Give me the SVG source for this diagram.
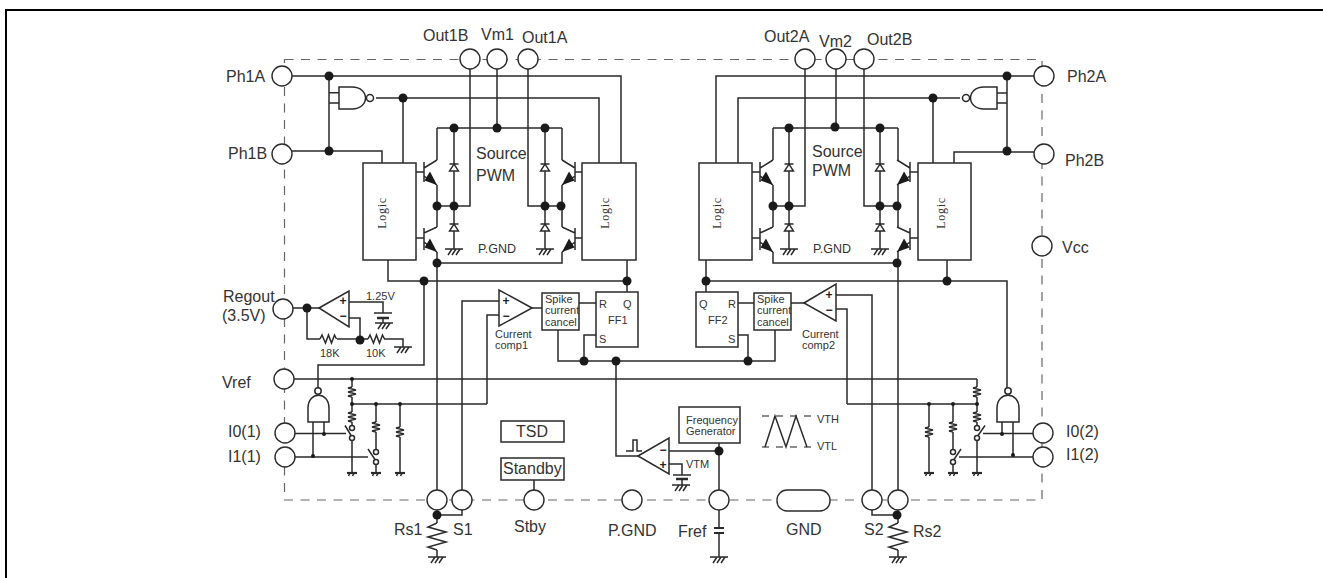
<svg xmlns="http://www.w3.org/2000/svg" xmlns:xlink="http://www.w3.org/1999/xlink" width="1323" height="578" viewBox="0 0 1323 578">
<style>
.w{fill:none;stroke:#2a2a2a;stroke-width:1.5;stroke-linejoin:miter}
.b{fill:#fff;stroke:#2a2a2a;stroke-width:1.5}
.d{fill:#1a1a1a;stroke:none}
.p{fill:#fff;stroke:#2a2a2a;stroke-width:1.4}
text{font-family:"Liberation Sans",Arial,sans-serif;fill:#333}
.t16{font-size:16px}
.t11{font-size:11px}
.t12{font-size:12.5px}
.ser{font-family:"Liberation Serif","Times New Roman",serif;font-size:12px;letter-spacing:.7px;text-anchor:middle}
.sign{font-size:12px;font-weight:bold;text-anchor:middle;fill:#222}
.dash{fill:none;stroke:#666;stroke-width:1.2;stroke-dasharray:9 7.5}
</style>
<defs>
<circle id="dot" class="d" r="4.5"/>
<circle id="sd" class="d" r="2"/>
<g id="gnd" class="w"><path d="M-9 0H9M-2 0l-4 6M2 0l-4 6M6 0l-4 6"/></g>
<g id="sg"><path class="w" d="M-5 0H5" style="stroke-width:2.200"/><path class="w" d="M-2 0l-1.500 3M2 0l-1.500 3"/></g>
<g id="q1"><path class="w" d="M0 0H8M8 -10V10M8 -4L21 -12M8 4L21 13"/><path class="d" d="M21 13L8.500 8.500L14 -0.500Z"/></g>
<g id="q2"><path class="w" d="M0 0H8M8 -10V12M8 -5L21 -11M8 4L21 14"/><path class="d" d="M21 14L8.500 9.500L14 0.500Z"/></g>
<g id="dio"><path class="p" d="M-4.500 7H4.500L0 0Z"/><path class="w" d="M-4.500 0H4.500"/></g>
<path id="rv" class="w" d="M0 0l-4 1 8 2 -8 2 8 2 -8 2 4 1" style="stroke-width:1.400"/>
<path id="rh" class="w" d="M0 0l2 -4 3.500 8 3 -8 3 8 3 -8 2 4"/>
<path id="rb" class="w" d="M0 0l-9 4 18 5 -18 5 18 5 -18 5 9 3"/>
</defs>
<rect width="1323" height="578" fill="#fff"/>
<path id="frame" d="M6 578V10H1323" fill="none" stroke="#000" stroke-width="2"/>
<rect id="package" class="dash" x="284.500" y="59.500" width="757.500" height="440.500"/>
<g id="connectors">
<path class="w" d="M292 76H621V163M329 76V151M329 92.700H339M329 103H339M292 151H382V163M376 98H599V163M403 98V163"/>
<path class="w" d="M497 69V128M437 128H562M470 69V206H437M528 69V206H562M437 128V160M562 128V160M437 185V227M562 185V227M437 252V490M562 252V263H437"/>
<path class="w" d="M454 128V206M545 128V206M454 206V249M545 206V249"/>
<path class="w" d="M388 260V281H627M627 260V292M424 281V365H318V388"/>
<path class="w" d="M1034 76H716V163M1007 76V151M997 93H1007M997 103H1007M1034 152H954V163M960 98H738V163M933 98V163"/>
<path class="w" d="M836 69V128M773 128H898M805 69V206H773M864 69V206H898M773 128V160M898 128V160M773 185V227M898 185V227M773 252V263H898M898 252V490"/>
<path class="w" d="M789 128V206M880 128V206M789 206V249M880 206V249"/>
<path class="w" d="M706 260V292M706 281H1007V388M947 260V281"/>
<path class="w" d="M293 308H319M349 302H383V313M383 318V323M349 318H360V340M307 308V339H320M337 339H368M384 339H403V347"/>
<path class="w" d="M462 490V301H499M487 404V315H499M532 308H542M579 303H596M738 303H754M791 303H804M836 295H872V490M836 309H847V404"/>
<path class="w" d="M558 330V361H775V330M584 361V335H596M748 361V335H738M616 361V456H638"/>
<path class="w" d="M669 451H719M719 443V490M669 464H682V475M682 479V485M719 510V528M719 533V557"/>
<path class="w" style="stroke-width:1.700" d="M294 379H977"/>
<path class="w" d="M352 379V387M352 397V412M352 404H487M352 422V425.500M352 440.500V473M376 404V422M376 432V449.500M376 464.500V473M400 404V427M400 437V473"/>
<path class="w" d="M977 379V387M977 397V412M847 404H977M977 422V425.500M977 440.500V473M953 404V422M953 432V449.500M953 464.500V473M929 404V427M929 437V473"/>
<path class="w" d="M313 422V456M324 422V434M295 433.500H346M295 457H368"/>
<path class="w" d="M1002 422V434M1013 422V456M1033 433.500H983M1033 457H959"/>
<path class="w" d="M345 425.500L352 437M368 449L376 461M985 425.500L977 437M961 449L953 461"/>
<path class="w" d="M437 510V523M462 510V515H437M437 550V557M898 510V523M872 510V515H898M898 550V557M534 480V490"/>
<use href="#rb" x="437" y="523"/><use href="#rb" x="898" y="523"/>
<use href="#rh" x="320" y="339"/><use href="#rh" x="368" y="339"/>
<use href="#rv" x="352" y="387"/><use href="#rv" x="352" y="412"/><use href="#rv" x="376" y="422"/><use href="#rv" x="400" y="427"/>
<use href="#rv" x="977" y="387"/><use href="#rv" x="977" y="412"/><use href="#rv" x="953" y="422"/><use href="#rv" x="929" y="427"/>
<use href="#dot" x="329" y="76"/><use href="#dot" x="329" y="151"/><use href="#dot" x="403" y="98"/><use href="#dot" x="454" y="128"/><use href="#dot" x="497" y="128"/><use href="#dot" x="545" y="128"/>
<use href="#dot" x="437" y="206"/><use href="#dot" x="454" y="206"/><use href="#dot" x="545" y="206"/><use href="#dot" x="561" y="206"/><use href="#dot" x="437" y="263"/><use href="#dot" x="424" y="281"/><use href="#dot" x="627" y="281"/>
<use href="#dot" x="1007" y="76"/><use href="#dot" x="1007" y="151"/><use href="#dot" x="933" y="98"/><use href="#dot" x="789" y="128"/><use href="#dot" x="835" y="127"/><use href="#dot" x="880" y="128"/>
<use href="#dot" x="773" y="206"/><use href="#dot" x="789" y="206"/><use href="#dot" x="880" y="206"/><use href="#dot" x="897" y="206"/><use href="#dot" x="897" y="263"/><use href="#dot" x="706" y="281"/><use href="#dot" x="947" y="281"/>
<use href="#dot" x="307" y="308"/><use href="#dot" x="360" y="340"/><use href="#dot" x="584" y="361"/><use href="#dot" x="616" y="361"/><use href="#dot" x="748" y="361"/><use href="#dot" x="719" y="451"/><use href="#dot" x="437" y="515"/><use href="#dot" x="897" y="515"/>
<use href="#sd" x="352" y="379"/><use href="#sd" x="352" y="404"/><use href="#sd" x="376" y="404"/><use href="#sd" x="400" y="404"/><use href="#sd" x="324" y="434"/><use href="#sd" x="313" y="456"/>
<use href="#sd" x="977" y="404"/><use href="#sd" x="953" y="404"/><use href="#sd" x="929" y="404"/><use href="#sd" x="1002" y="434"/><use href="#sd" x="1013" y="455"/>
</g>
<g id="bridge1">
<use href="#q1" x="416" y="172"/><use href="#q2" x="416" y="238"/>
<use href="#q1" transform="translate(583 172) scale(-1 1)"/><use href="#q2" transform="translate(583 238) scale(-1 1)"/>
<use href="#dio" x="454" y="164"/><use href="#dio" x="545" y="164"/><use href="#dio" x="454" y="224"/><use href="#dio" x="545" y="224"/>
<use href="#gnd" x="454" y="249"/><use href="#gnd" x="545" y="249"/>
<text class="t16" x="476" y="159">Source</text><text class="t16" x="476" y="181">PWM</text><text class="t12" x="478" y="253">P.GND</text>
</g>
<g id="bridge2">
<use href="#q1" x="752" y="172"/><use href="#q2" x="752" y="238"/>
<use href="#q1" transform="translate(918 172) scale(-1 1)"/><use href="#q2" transform="translate(918 238) scale(-1 1)"/>
<use href="#dio" x="789" y="164"/><use href="#dio" x="880" y="164"/><use href="#dio" x="789" y="224"/><use href="#dio" x="880" y="224"/>
<use href="#gnd" x="789" y="249"/><use href="#gnd" x="880" y="249"/>
<text class="t16" x="812" y="157">Source</text><text class="t16" x="812" y="176">PWM</text><text class="t12" x="813" y="253">P.GND</text>
</g>
<g id="logic1a"><rect class="b" x="363" y="163" width="53" height="97"/><text class="ser" transform="translate(386 213) rotate(-90)">Logic</text></g>
<g id="logic1b"><rect class="b" x="582" y="163" width="54" height="97"/><text class="ser" transform="translate(609 213) rotate(-90)">Logic</text></g>
<g id="logic2a"><rect class="b" x="699" y="163" width="53" height="97"/><text class="ser" transform="translate(721 213) rotate(-90)">Logic</text></g>
<g id="logic2b"><rect class="b" x="918" y="163" width="53" height="97"/><text class="ser" transform="translate(945 213) rotate(-90)">Logic</text></g>
<g id="nand1"><path class="b" d="M339 87H352C370 87 370 109 352 109H339Z"/><circle class="b" cx="370" cy="98" r="3.500"/></g>
<g id="nand2"><path class="b" d="M997 87H984C966 87 966 109 984 109H997Z"/><circle class="b" cx="966" cy="98" r="3.500"/></g>
<g id="nand3"><path class="b" d="M308 422V408C308 391 329 391 329 408V422Z"/><circle class="b" cx="318" cy="391" r="3.200"/></g>
<g id="nand4"><path class="b" d="M997 422V408C997 391 1019 391 1019 408V422Z"/><circle class="b" cx="1008" cy="391" r="3.200"/></g>
<g id="regamp"><path class="b" d="M319 308L349 291V327Z"/><text class="sign" x="343" y="305">+</text><text class="sign" x="343" y="320">−</text>
<path class="w" d="M374 313H392"/><path class="w" style="stroke-width:2.500" d="M377 318H389"/><use href="#gnd" x="384" y="323"/><use href="#gnd" x="403" y="347"/>
<text class="t11" x="366" y="300">1.25V</text><text class="t11" x="320" y="357">18K</text><text class="t11" x="366" y="357">10K</text></g>
<g id="comp1"><path class="b" d="M532 308L499 290V326Z"/><text class="sign" x="506" y="305">+</text><text class="sign" x="506" y="320">−</text>
<text class="t11" x="495" y="338">Current</text><text class="t11" x="495" y="349">comp1</text></g>
<g id="comp2"><path class="b" d="M804 303L836 284V321Z"/><text class="sign" x="829" y="299">+</text><text class="sign" x="829" y="314">−</text>
<text class="t11" x="802" y="338">Current</text><text class="t11" x="802" y="349">comp2</text></g>
<g id="spike1"><rect class="b" x="542" y="293" width="37" height="37"/><text class="t11" x="545" y="303">Spike</text><text class="t11" x="545" y="314">current</text><text class="t11" x="545" y="326">cancel</text></g>
<g id="spike2"><rect class="b" x="754" y="293" width="37" height="37"/><text class="t11" x="757" y="303">Spike</text><text class="t11" x="757" y="314">current</text><text class="t11" x="757" y="326">cancel</text></g>
<g id="ff1"><rect class="b" x="596" y="292" width="42" height="55"/><text class="t11" x="599" y="308">R</text><text class="t11" x="623" y="308">Q</text><text class="t11" x="608" y="324">FF1</text><text class="t11" x="599" y="343">S</text></g>
<g id="ff2"><rect class="b" x="696" y="292" width="42" height="55"/><text class="t11" x="699" y="308">Q</text><text class="t11" x="728" y="308">R</text><text class="t11" x="708" y="324">FF2</text><text class="t11" x="728" y="343">S</text></g>
<g id="tsd"><rect class="b" x="501" y="421" width="63" height="21"/><text class="t16" x="516" y="437">TSD</text></g>
<g id="standby"><rect class="b" x="501" y="458" width="63" height="22"/><text class="t16" x="503" y="474">Standby</text></g>
<g id="freqgen"><rect class="b" x="679" y="407" width="61" height="36"/><text class="t11" x="686" y="424">Frequency</text><text class="t11" x="686" y="435">Generator</text></g>
<g id="vtmcomp"><path class="b" d="M638 456L669 438V474Z"/><text class="sign" x="663" y="454">−</text><text class="sign" x="663" y="469">+</text>
<path class="w" d="M626 451H633V440H637V451H642"/><path class="w" d="M673 475H691"/><path class="w" style="stroke-width:2.500" d="M676 479H688"/><use href="#gnd" x="681" y="485"/><text class="t11" x="686" y="468">VTM</text></g>
<g id="waveform"><path class="w" style="stroke:#666;stroke-dasharray:7 7" d="M762 416H813M762 447H813"/><path class="w" d="M765 447L775 416L786 447L796 416L807 447"/><text class="t11" x="817" y="423">VTH</text><text class="t11" x="817" y="450">VTL</text></g>
<g id="switches">
<circle class="b" cx="352" cy="428" r="2.500"/><circle class="b" cx="352" cy="438" r="2.500"/><circle class="b" cx="376" cy="452" r="2.500"/><circle class="b" cx="376" cy="462" r="2.500"/>
<circle class="b" cx="977" cy="428" r="2.500"/><circle class="b" cx="977" cy="438" r="2.500"/><circle class="b" cx="953" cy="452" r="2.500"/><circle class="b" cx="953" cy="462" r="2.500"/>
<use href="#sg" x="352" y="473"/><use href="#sg" x="376" y="473"/><use href="#sg" x="400" y="473"/><use href="#sg" x="977" y="473"/><use href="#sg" x="953" y="473"/><use href="#sg" x="929" y="473"/>
</g>
<g id="grounds"><use href="#gnd" x="437" y="557"/><use href="#gnd" x="898" y="557"/><use href="#gnd" x="719" y="557"/>
<path class="w" style="stroke-width:2" d="M714 528H724M714 533H724"/></g>
<g id="pin-Ph1A"><circle class="p" cx="282" cy="76" r="10"/><text class="t16" x="226" y="82">Ph1A</text></g>
<g id="pin-Ph1B"><circle class="p" cx="282" cy="154" r="10"/><text class="t16" x="228" y="159">Ph1B</text></g>
<g id="pin-Out1B"><circle class="p" cx="470" cy="59" r="10"/><text class="t16" x="423" y="41">Out1B</text></g>
<g id="pin-Vm1"><circle class="p" cx="497" cy="59" r="10"/><text class="t16" x="481" y="40">Vm1</text></g>
<g id="pin-Out1A"><circle class="p" cx="528" cy="59" r="10"/><text class="t16" x="522" y="43">Out1A</text></g>
<g id="pin-Out2A"><circle class="p" cx="805" cy="59" r="10"/><text class="t16" x="764" y="42">Out2A</text></g>
<g id="pin-Vm2"><circle class="p" cx="836" cy="59" r="10"/><text class="t16" x="819" y="47">Vm2</text></g>
<g id="pin-Out2B"><circle class="p" cx="864" cy="59" r="10"/><text class="t16" x="867" y="45">Out2B</text></g>
<g id="pin-Ph2A"><circle class="p" cx="1044" cy="76" r="10"/><text class="t16" x="1067" y="82">Ph2A</text></g>
<g id="pin-Ph2B"><circle class="p" cx="1044" cy="154" r="10"/><text class="t16" x="1065" y="166">Ph2B</text></g>
<g id="pin-Vcc"><circle class="p" cx="1042" cy="246" r="10"/><text class="t16" x="1062" y="253">Vcc</text></g>
<g id="pin-Regout"><circle class="p" cx="283" cy="309" r="10"/><text class="t16" x="223" y="302">Regout</text><text class="t16" x="222" y="321">(3.5V)</text></g>
<g id="pin-Vref"><circle class="p" cx="284" cy="379" r="10"/><text class="t16" x="222" y="388">Vref</text></g>
<g id="pin-I01"><circle class="p" cx="285" cy="433" r="10"/><text class="t16" x="228" y="437">I0(1)</text></g>
<g id="pin-I11"><circle class="p" cx="285" cy="457" r="10"/><text class="t16" x="228" y="462">I1(1)</text></g>
<g id="pin-I02"><circle class="p" cx="1043" cy="433" r="10"/><text class="t16" x="1066" y="437">I0(2)</text></g>
<g id="pin-I12"><circle class="p" cx="1043" cy="457" r="10"/><text class="t16" x="1066" y="460">I1(2)</text></g>
<g id="pin-Rs1"><circle class="p" cx="437" cy="500" r="10"/><text class="t16" x="394" y="535">Rs1</text></g>
<g id="pin-S1"><circle class="p" cx="462" cy="500" r="10"/><text class="t16" x="453" y="535">S1</text></g>
<g id="pin-Stby"><circle class="p" cx="534" cy="500" r="10"/><text class="t16" x="514" y="532">Stby</text></g>
<g id="pin-PGND"><circle class="p" cx="632" cy="500" r="10"/><text class="t16" x="608" y="536">P.GND</text></g>
<g id="pin-Fref"><circle class="p" cx="719" cy="500" r="10"/><text class="t16" x="678" y="537">Fref</text></g>
<g id="pin-GND"><rect class="p" x="777" y="490" width="53" height="21" rx="10"/><text class="t16" x="786" y="535">GND</text></g>
<g id="pin-S2"><circle class="p" cx="872" cy="500" r="10"/><text class="t16" x="864" y="535">S2</text></g>
<g id="pin-Rs2"><circle class="p" cx="898" cy="500" r="10"/><text class="t16" x="913" y="537">Rs2</text></g>
</svg>
